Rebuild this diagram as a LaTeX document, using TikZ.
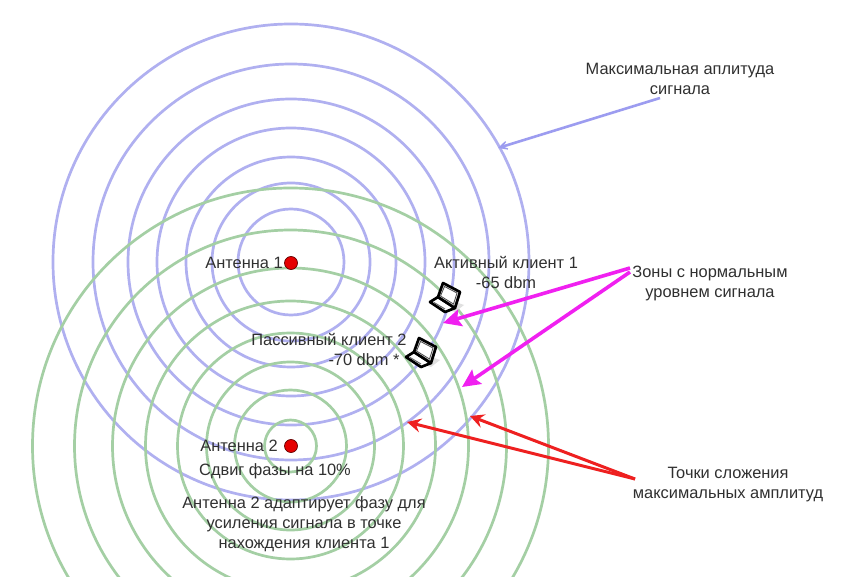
\documentclass[tikz,border=0pt]{standalone}
\usepackage{fontspec}
\setmainfont{Liberation Sans}
\usetikzlibrary{arrows.meta}
\definecolor{ringblue}{HTML}{B0B0F0}
\definecolor{ringgreen}{HTML}{A4CFA4}
\definecolor{txt}{HTML}{303030}
\definecolor{arrblue}{HTML}{9C9CF0}
\definecolor{arrmag}{HTML}{F020F0}
\definecolor{arrred}{HTML}{EE2020}
\tikzset{
  bluering/.style={draw=ringblue,line width=2.7pt},
  greenring/.style={draw=ringgreen,line width=2.7pt},
  lbl/.style={inner sep=0pt,text=txt,align=center,font=\fontsize{16.4}{20}\selectfont},
  antdot/.style={circle,draw=black!60!red,line width=0.7pt,fill=red!90!black,minimum size=13pt,inner sep=0pt},
  bluearr/.style={draw=arrblue,line width=2.6pt,-{Stealth[length=15pt,width=15pt,inset=10pt]}},
  magarr/.style={draw=arrmag,line width=3.6pt,-{Stealth[length=18pt,width=17pt,inset=3pt]}},
  redarr/.style={draw=arrred,line width=3pt,-{Stealth[length=14pt,width=14pt,inset=5pt]}},
  laptop/.pic={
    \fill[black!12] (-5,24) -- (12,29) -- (21,22) -- (4,16) -- cycle;
    \draw[black,line width=2.7pt,line join=round,fill=white] (-13,19) -- (-5,14) -- (12,25) -- (2,29) -- cycle;
    \draw[black,line width=2.7pt,line join=round,fill=black!8] (-5,14) -- (0,0) -- (17,9) -- (12,25) -- cycle;
    \draw[black!70,line width=0.8pt,fill=white] (-2.5,13) -- (1.5,3.5) -- (14,10) -- (10.5,21) -- cycle;
    \draw[black!60,line width=1pt] (-9,19.5) -- (2,26);
  }
}
\begin{document}
\begin{tikzpicture}[x=1pt,y=-1pt]
\useasboundingbox (0,0) rectangle (864,577);
\fill[white] (0,0) rectangle (864,577);
\begin{scope}
\clip (0,0) rectangle (864,577);
\foreach \r in {238,198,163,134,105,79,53}
  \draw[bluering] (291,262) circle[radius=\r];
\foreach \r in {258,216,178,145,113,84,56,26}
  \draw[greenring] (290.5,446) circle[radius=\r];
\end{scope}

\node[antdot] (ant1) at (291,263) {};
\node[antdot] (ant2) at (291,446) {};
\node[lbl] (ant1l) at (244,263) {Антенна 1};
\node[lbl] (ant2l) at (239,446) {Антенна 2};
\node[lbl] (shift) at (275,471) {Сдвиг фазы на 10\%};
\node[lbl] (adapt) at (304,524) {Антенна 2 адаптирует фазу для\\усиления сигнала в точке\\нахождения клиента 1};
\node[lbl] (amax) at (680,79) {Максимальная аплитуда\\сигнала};
\node[lbl] (act) at (506,272) {Активный клиент 1\\-65 dbm};
\node[lbl,align=right] (pass) at (329,349) {Пассивный клиент 2\\-70 dbm *\hspace*{7pt}};
\node[lbl] (zones) at (710,283) {Зоны с нормальным\\уровнем сигнала};
\node[lbl] (pts) at (728,485) {Точки сложения\\максимальных амплитуд};

\pic at (443,283) {laptop};
\pic at (419,338) {laptop};

\coordinate (bs) at (660,98);
\coordinate (bt) at (498,148);
\coordinate (ms1) at (630,268);
\coordinate (ms2) at (630,272);
\coordinate (mt1) at (443,323);
\coordinate (mt2) at (462,387);
\coordinate (rs) at (635,479);
\coordinate (rt1) at (407,422);
\coordinate (rt2) at (470,416);
\draw[bluearr] (bs) -- (bt);
\draw[magarr] (ms1) -- (mt1);
\draw[magarr] (ms2) -- (mt2);
\draw[redarr] (rs) -- (rt1);
\draw[redarr] (rs) -- (rt2);
\end{tikzpicture}
\end{document}
